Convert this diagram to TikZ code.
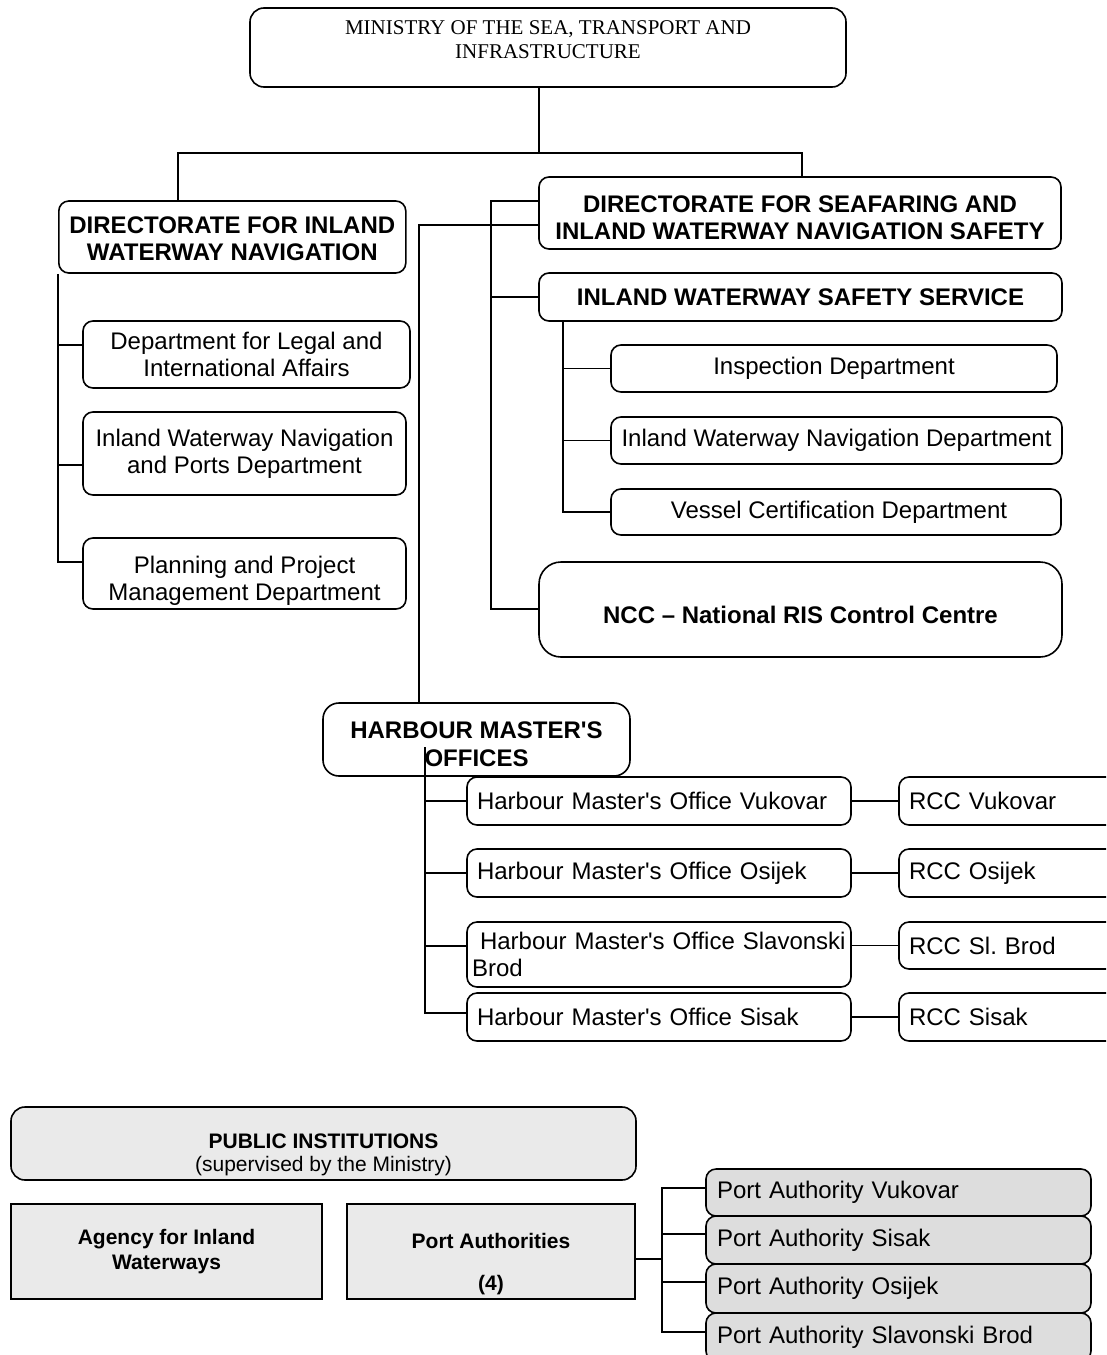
\documentclass[tikz,border=0pt]{standalone}
\usepackage{fontspec}
\setmainfont{Liberation Sans}[Ligatures=TeXOff]
\newfontfamily\tnr{Liberation Serif}[Ligatures=TeXOff]
\newcommand\fsr{\fontsize{24}{27}\selectfont}
\newcommand\fsb{\fontsize{24}{27}\selectfont\bfseries}
\newcommand\fsp{\fontsize{21}{25}\selectfont}
\definecolor{pubgray}{RGB}{234,234,234}
\definecolor{pagray}{RGB}{221,221,221}
\frenchspacing
\begin{document}
\begin{tikzpicture}[x=1pt,y=-1pt,
  box/.style={draw, line width=1.6pt, rounded corners=10pt, fill=white, inner sep=0pt, align=center, font=\fsr},
  hbox/.style={box, font=\fsb},
  lbox/.style={box, align=left, inner xsep=10pt},
  pubbox/.style={draw, line width=1.6pt, fill=pubgray, inner sep=0pt, align=center},
  pabox/.style={box, fill=pagray, align=left, inner xsep=11pt},
  conn/.style={line width=1.6pt},
  txt/.style={inner sep=0pt, align=center}]
\path[use as bounding box, fill=white] (0,0) rectangle (1106,1355);
\clip (0,0) rectangle (1106,1355);

% ---------- top ----------
\node[box, rounded corners=14pt, minimum width=596pt, minimum height=79pt] (min) at (548,47.5) {};
\node[txt, font=\tnr\fontsize{21}{24}\selectfont] (minT) at (548,40) {MINISTRY OF THE SEA, TRANSPORT AND\\INFRASTRUCTURE};

% ---------- left directorate ----------
\node[hbox, minimum width=347pt, minimum height=72pt] (din) at (232.3,237) {};
\node[txt, font=\fsb] (dinT) at (232.3,239) {DIRECTORATE FOR INLAND\\WATERWAY NAVIGATION};
\node[box, minimum width=327pt, minimum height=67pt] (dlegal) at (246.5,354.5) {Department for Legal and\\International Affairs};
\node[box, minimum width=323pt, minimum height=83pt] (dports) at (244.5,453.5) {Inland Waterway Navigation\\and Ports Department};
\node[box, minimum width=323pt, minimum height=71pt] (dplan) at (244.5,573.5) {};
\node[txt, font=\fsr] (dplanT) at (244.5,580.5) {Planning and Project\\Management Department};

% ---------- right directorate ----------
\node[hbox, minimum width=522pt, minimum height=72pt] (dsea) at (800,213) {};
\node[txt, font=\fsb] (dseaT) at (800,217.5) {DIRECTORATE FOR SEAFARING AND\\INLAND WATERWAY NAVIGATION SAFETY};
\node[hbox, minimum width=523pt, minimum height=48pt] (iwss) at (800.5,297) {INLAND WATERWAY SAFETY SERVICE};
\node[box, minimum width=446pt, minimum height=47pt] (insp) at (834,368.5) {Inspection Department};
\node[box, minimum width=451pt, minimum height=47pt] (iwnd) at (836.5,440.5) {Inland Waterway Navigation Department};
\node[box, minimum width=450pt, minimum height=46pt] (vessel) at (836,512) {\hspace*{6pt}Vessel Certification Department};
\node[hbox, rounded corners=22pt, minimum width=523pt, minimum height=95pt] (ncc) at (800.5,609.5) {};
\node[txt, font=\fsb] (nccT) at (800.5,614.5) {NCC – National RIS Control Centre};

% ---------- harbour masters ----------
\node[hbox, rounded corners=16pt, minimum width=307pt, minimum height=73pt] (hmo) at (476.5,739.5) {};
\node[txt, font=\fontsize{24}{28}\selectfont\bfseries] (hmoT) at (476.5,744.5) {HARBOUR MASTER'S\\OFFICES};
\node[lbox, text width=364pt, minimum height=48pt] (off1) at (659,801) {Harbour Master's Office Vukovar};
\node[lbox, text width=364pt, minimum height=48pt] (off2) at (659,873) {Harbour Master's Office Osijek};
\node[lbox, inner xsep=5pt, text width=374pt, minimum height=65pt] (off3) at (659,954.5) {\mbox{\hspace*{8pt}Harbour Master's Office Slavonski}\\Brod};
\node[lbox, text width=364pt, minimum height=48pt] (off4) at (659,1017) {Harbour Master's Office Sisak};
\node[lbox, text width=211pt, minimum height=48pt] (rcc1) at (1014.5,801) {RCC Vukovar};
\node[lbox, text width=211pt, minimum height=48pt] (rcc2) at (1014.5,873) {RCC Osijek};
\node[lbox, text width=211pt, minimum height=47pt] (rcc3) at (1014.5,945.5) {RCC Sl. Brod};
\node[lbox, text width=211pt, minimum height=48pt] (rcc4) at (1014.5,1017) {RCC Sisak};

% ---------- public institutions ----------
\node[pubbox, rounded corners=14pt, minimum width=625pt, minimum height=73pt] (pub) at (323.5,1143.5) {};
\node[txt, font=\fontsize{21}{23}\selectfont] (pubT) at (323.5,1155) {{\bfseries PUBLIC INSTITUTIONS}\\(supervised by the Ministry)};
\node[pubbox, minimum width=311pt, minimum height=95pt, font=\fsp\bfseries] (agency) at (166.5,1251.5) {Agency for Inland\\Waterways};
\node[pubbox, minimum width=288pt, minimum height=95pt] (pauth) at (491,1251.5) {};
\node[txt, font=\fsp\bfseries] (pauthT) at (491,1264) {Port Authorities\\[17pt](4)};
\node[pabox, text width=363pt, minimum height=47pt] (pa1) at (898.5,1192.5) {Port Authority Vukovar};
\node[pabox, text width=363pt, minimum height=48pt] (pa2) at (898.5,1240) {Port Authority Sisak};
\node[pabox, text width=363pt, minimum height=49pt] (pa3) at (898.5,1288.5) {Port Authority Osijek};
\node[pabox, text width=363pt, minimum height=48pt] (pa4) at (898.5,1337) {Port Authority Slavonski Brod};

% ---------- named connector points ----------
\coordinate (mjoin) at (539,153);
\coordinate (dinTop) at (178,201);
\coordinate (dseaTop) at (802,177);
\coordinate (dlegalL) at (83,345);
\coordinate (dportsL) at (83,465);
\coordinate (dplanL) at (83,562);
\coordinate (dseaL1) at (539,201);
\coordinate (dseaL2) at (539,225);
\coordinate (sbr) at (491,201);
\coordinate (nccL) at (539,609);
\coordinate (hmoTop) at (419,703);
\coordinate (iwssB) at (563,321);
\coordinate (hin) at (425,747);
\coordinate (off3L) at (467,946);
\coordinate (off4L) at (467,1013);
\coordinate (pauthR) at (635,1259);
\coordinate (pv) at (662,1188);
\coordinate (pa1L) at (706,1188);
\coordinate (pa2L) at (706,1234);
\coordinate (pa3L) at (706,1282);
\coordinate (pa4L) at (706,1332);

% ---------- connectors ----------
\draw[conn] (mjoin |- min.south) -- (mjoin);
\draw[conn] (dinTop) |- (mjoin) -| (dseaTop);
\draw[conn] (din.south west) |- (dplanL);
\draw[conn] (din.south west |- dlegalL) -- (dlegalL);
\draw[conn] (din.south west |- dportsL) -- (dportsL);
\draw[conn] (dseaL1) -- (sbr) |- (nccL);
\draw[conn] (sbr |- iwss.west) -- (iwss.west);
\draw[conn] (dseaL2) -| (hmoTop);
\draw[conn] (iwssB) |- (vessel.west);
\draw[conn] (iwssB |- insp.west) -- (insp.west);
\draw[conn] (iwssB |- iwnd.west) -- (iwnd.west);
\draw[conn] (hin) |- (off4L);
\draw[conn] (hin |- off1.west) -- (off1.west);
\draw[conn] (hin |- off2.west) -- (off2.west);
\draw[conn] (hin |- off3L) -- (off3L);
\draw[conn] (off1.east) -- (rcc1.west);
\draw[conn] (off2.east) -- (rcc2.west);
\draw[conn] (rcc3.west -| off3.east) -- (rcc3.west);
\draw[conn] (off4.east) -- (rcc4.west);
\draw[conn] (pauthR) -- (pauthR -| pv);
\draw[conn] (pa1L) -- (pv) |- (pa4L);
\draw[conn] (pv |- pa2L) -- (pa2L);
\draw[conn] (pv |- pa3L) -- (pa3L);
\end{tikzpicture}
\end{document}
